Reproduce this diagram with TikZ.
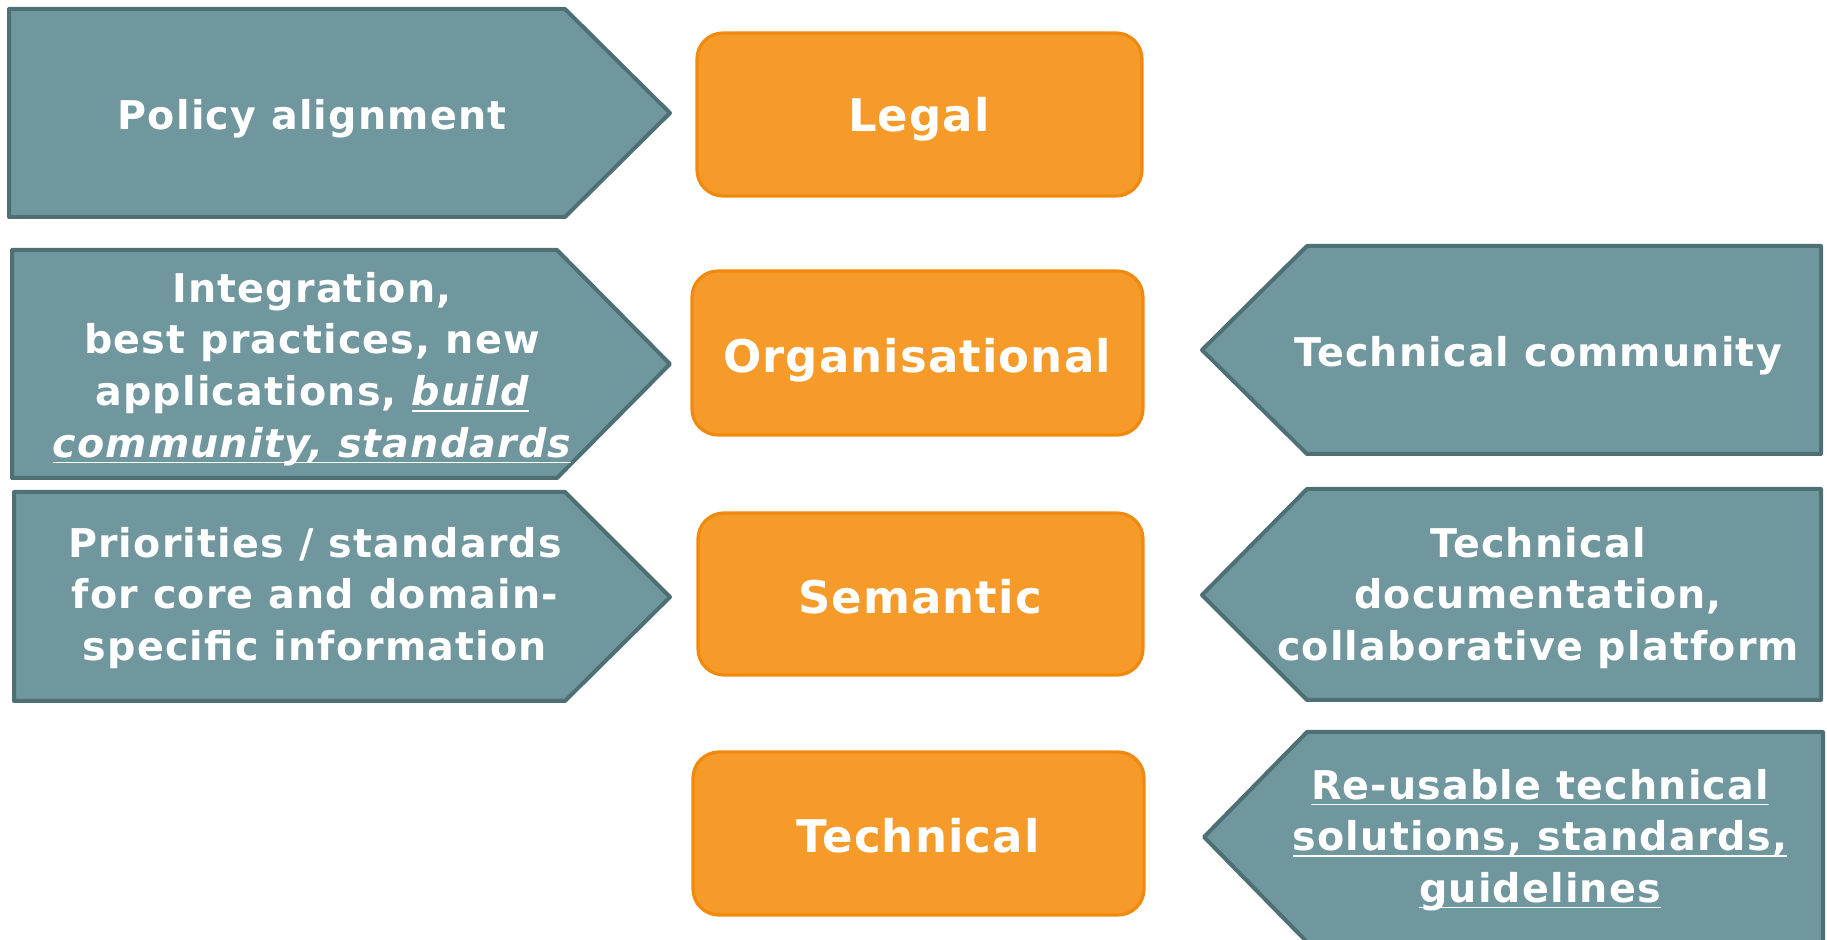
\documentclass[tikz,border=0pt]{standalone}
\usepackage{fontspec}
\setmainfont{DejaVu Sans}
\newfontfamily\armfont[LetterSpace=3]{DejaVu Sans}
\newfontfamily\layerfont[LetterSpace=2.5]{DejaVu Sans}
\definecolor{tealfill}{HTML}{6F979D}
\definecolor{tealline}{HTML}{4E7075}
\definecolor{orfill}{HTML}{F69A29}
\definecolor{orline}{HTML}{EF8A0F}
\newcommand{\myul}[1]{{\setbox0\hbox{#1}\rlap{\rule[-3pt]{\wd0}{0.8pt}}\box0}}
\begin{document}
\begin{tikzpicture}[x=0.5pt,y=-0.5pt,
  arrowshape/.style={fill=tealfill,draw=tealline,line width=2pt,line join=round},
  layerbox/.style={fill=orfill,draw=orline,line width=1.6pt,rounded corners=13pt},
  armtext/.style={text=white,font=\armfont\bfseries\fontsize{19.8}{25.8}\selectfont,align=center,inner sep=0pt},
  layertext/.style={text=white,font=\layerfont\bfseries\fontsize{22.5}{26}\selectfont,inner sep=0pt}]
\useasboundingbox (0,0) rectangle (1827,940);
% left arrows
\path[arrowshape] (9,9) -- (565,9) -- (670,113) -- (565,217) -- (9,217) -- cycle;
\path[arrowshape] (12,250) -- (557,250) -- (670,364) -- (557,478) -- (12,478) -- cycle;
\path[arrowshape] (14,492) -- (565,492) -- (670,597) -- (565,701) -- (14,701) -- cycle;
% right arrows
\path[arrowshape] (1821,246) -- (1307,246) -- (1202,350) -- (1307,454) -- (1821,454) -- cycle;
\path[arrowshape] (1821,489) -- (1307,489) -- (1202,595) -- (1307,700) -- (1821,700) -- cycle;
\path[arrowshape] (1823,732) -- (1307,732) -- (1204,837) -- (1307,942) -- (1823,942) -- cycle;
% layer boxes
\path[layerbox] (697,33) rectangle (1142,196);
\path[layerbox] (692,271) rectangle (1143,435);
\path[layerbox] (698,513) rectangle (1143,675);
\path[layerbox] (693,752) rectangle (1144,915);
% layer labels
\node[layertext] (legal) at (919,119) {Legal};
\node[layertext] (org) at (917,360) {Organisational};
\node[layertext] (sem) at (920,597) {Semantic};
\node[layertext] (tech) at (918,836) {Technical};
% left texts
\node[armtext] (policy) at (312,119) {Policy alignment};
\node[armtext] (integ) at (312,369) {Integration,\\best practices, new\\applications, \myul{\itshape build}\\\myul{\itshape community, standards}};
\node[armtext] (prio) at (315,598) {Priorities / standards\\for core and domain-\\specific information};
% right texts
\node[armtext] (tcomm) at (1538,356) {Technical community};
\node[armtext] (tdoc) at (1538,598) {Technical\\documentation,\\collaborative platform};
\node[armtext] (reuse) at (1540,840) {\myul{Re-usable technical}\\\myul{solutions, standards,}\\\myul{guidelines}};
\end{tikzpicture}
\end{document}
